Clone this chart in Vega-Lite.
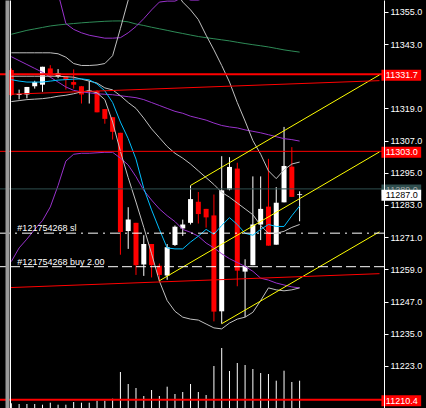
{
"$schema": "https://vega.github.io/schema/vega-lite/v6.json",
"width": 384, "height": 408,
"autosize": "none",
"padding": {"left": 0, "top": 0, "right": 42, "bottom": 0},
"background": "#000000",
"config": {"view": {"stroke": null, "fill": "#000000"}, "font": "Liberation Sans"},
"datasets": {
"bars": [
{"k":0,"o":11333.3,"h":11333.9,"l":11323.7,"c":11324.0,"v":47,"cy":11329.73,"pu":11414.64,"pm":11338.28,"pl":11261.91,"gu":11339.73,"gm":11331.0,"gl":11321.55,"g":11346.64},
{"k":1,"o":11324.0,"h":11326.0,"l":11322.4,"c":11324.4,"v":40,"cy":11329.19,"pu":11406.64,"pm":11336.82,"pl":11267.0,"gu":11339.73,"gm":11331.0,"gl":11321.91,"g":11347.37},
{"k":2,"o":11324.2,"h":11327.0,"l":11322.75,"c":11327.0,"v":40,"cy":11328.82,"pu":11400.46,"pm":11335.37,"pl":11270.28,"gu":11339.73,"gm":11331.0,"gl":11322.28,"g":11348.1},
{"k":3,"o":11327.26,"h":11329.3,"l":11326.39,"c":11328.82,"v":40,"cy":11328.82,"pu":11393.91,"pm":11333.91,"pl":11273.91,"gu":11339.73,"gm":11331.0,"gl":11322.46,"g":11348.64},
{"k":4,"o":11327.84,"h":11334.53,"l":11325.19,"c":11334.53,"v":33,"cy":11328.82,"pu":11384.82,"pm":11332.46,"pl":11277.19,"gu":11339.73,"gm":11331.0,"gl":11322.64,"g":11349.19},
{"k":5,"o":11333.9,"h":11335.11,"l":11330.53,"c":11331.26,"v":53,"cy":11329.19,"pu":11373.91,"pm":11330.64,"pl":11282.28,"gu":11339.73,"gm":11331.0,"gl":11323.0,"g":11349.73},
{"k":6,"o":11330.9,"h":11333.66,"l":11330.28,"c":11332.1,"v":33,"cy":11329.55,"pu":11361.91,"pm":11328.82,"pl":11290.28,"gu":11339.37,"gm":11331.0,"gl":11323.55,"g":11350.1},
{"k":7,"o":11330.9,"h":11330.9,"l":11326.02,"c":11329.66,"v":33,"cy":11329.73,"pu":11350.64,"pm":11327.0,"pl":11299.37,"gu":11338.1,"gm":11330.82,"gl":11323.91,"g":11350.39},
{"k":8,"o":11328.82,"h":11333.55,"l":11326.39,"c":11327.84,"v":60,"cy":11329.91,"pu":11348.46,"pm":11325.73,"pl":11301.91,"gu":11335.73,"gm":11330.64,"gl":11324.46,"g":11350.64},
{"k":9,"o":11327.26,"h":11327.37,"l":11320.82,"c":11324.2,"v":53,"cy":11330.02,"pu":11347.19,"pm":11325.19,"pl":11302.28,"gu":11335.0,"gm":11329.91,"gl":11325.19,"g":11350.9},
{"k":10,"o":11325.3,"h":11329.3,"l":11320.82,"c":11325.65,"v":53,"cy":11329.66,"pu":11346.28,"pm":11324.82,"pl":11302.28,"gu":11335.0,"gm":11329.19,"gl":11325.55,"g":11351.11},
{"k":11,"o":11325.44,"h":11325.8,"l":11317.55,"c":11317.55,"v":73,"cy":11328.1,"pu":11345.73,"pm":11324.46,"pl":11302.46,"gu":11335.19,"gm":11328.46,"gl":11324.82,"g":11351.3},
{"k":12,"o":11318.75,"h":11318.75,"l":11313.3,"c":11315.11,"v":73,"cy":11325.55,"pu":11345.19,"pm":11324.28,"pl":11302.64,"gu":11335.73,"gm":11326.64,"gl":11322.28,"g":11351.48},
{"k":13,"o":11315.73,"h":11315.73,"l":11307.37,"c":11310.28,"v":93,"cy":11321.19,"pu":11345.19,"pm":11324.1,"pl":11302.64,"gu":11338.64,"gm":11325.91,"gl":11313.91,"g":11351.59},
{"k":14,"o":11309.91,"h":11309.91,"l":11264.46,"c":11272.93,"v":360,"cy":11313.91,"pu":11345.37,"pm":11323.73,"pl":11300.46,"gu":11348.82,"gm":11323.73,"gl":11303.0,"g":11351.62},
{"k":15,"o":11273.3,"h":11282.17,"l":11266.64,"c":11277.55,"v":240,"cy":11307.73,"pu":11347.19,"pm":11323.37,"pl":11297.91,"gu":11359.37,"gm":11321.19,"gl":11293.19,"g":11351.26},
{"k":16,"o":11276.35,"h":11276.35,"l":11256.93,"c":11260.57,"v":200,"cy":11300.1,"pu":11349.55,"pm":11323.0,"pl":11293.55,"gu":11366.64,"gm":11319.0,"gl":11284.1,"g":11350.46},
{"k":17,"o":11260.82,"h":11271.73,"l":11256.57,"c":11268.46,"v":120,"cy":11289.19,"pu":11352.46,"pm":11322.28,"pl":11288.46,"gu":11370.28,"gm":11315.37,"gl":11274.64,"g":11349.91},
{"k":18,"o":11268.46,"h":11268.46,"l":11255.99,"c":11260.57,"v":180,"cy":11281.19,"pu":11355.73,"pm":11321.19,"pl":11284.82,"gu":11371.37,"gm":11311.37,"gl":11264.82,"g":11349.26},
{"k":19,"o":11260.35,"h":11261.19,"l":11254.75,"c":11256.93,"v":120,"cy":11273.91,"pu":11358.64,"pm":11320.1,"pl":11281.55,"gu":11370.28,"gm":11308.1,"gl":11254.64,"g":11348.68},
{"k":20,"o":11256.71,"h":11268.46,"l":11255.11,"c":11267.26,"v":213,"cy":11267.0,"pu":11359.0,"pm":11319.0,"pl":11279.0,"gu":11367.73,"gm":11304.82,"gl":11247.37,"g":11348.1},
{"k":21,"o":11268.1,"h":11275.37,"l":11267.73,"c":11274.9,"v":140,"cy":11266.64,"pu":11359.0,"pm":11317.91,"pl":11276.82,"gu":11363.0,"gm":11302.28,"gl":11243.37,"g":11347.48},
{"k":22,"o":11274.28,"h":11277.55,"l":11271.48,"c":11275.73,"v":160,"cy":11266.64,"pu":11360.46,"pm":11317.19,"pl":11273.91,"gu":11358.64,"gm":11300.46,"gl":11241.19,"g":11346.93},
{"k":23,"o":11276.35,"h":11290.28,"l":11275.73,"c":11285.19,"v":240,"cy":11269.19,"pu":11359.37,"pm":11316.1,"pl":11272.82,"gu":11355.73,"gm":11298.28,"gl":11240.46,"g":11346.35},
{"k":24,"o":11284.2,"h":11287.84,"l":11276.1,"c":11279.62,"v":160,"cy":11271.37,"pu":11359.37,"pm":11315.37,"pl":11271.37,"gu":11352.1,"gm":11295.73,"gl":11240.1,"g":11345.8},
{"k":25,"o":11281.55,"h":11281.55,"l":11274.53,"c":11278.39,"v":130,"cy":11273.91,"pu":11360.46,"pm":11314.64,"pl":11268.82,"gu":11346.28,"gm":11293.19,"gl":11238.64,"g":11345.37},
{"k":26,"o":11279.11,"h":11286.9,"l":11239.62,"c":11243.26,"v":420,"cy":11272.1,"pu":11360.1,"pm":11313.55,"pl":11267.0,"gu":11340.82,"gm":11290.64,"gl":11237.19,"g":11344.97},
{"k":27,"o":11243.37,"h":11301.19,"l":11238.75,"c":11288.46,"v":600,"cy":11275.37,"pu":11360.46,"pm":11312.64,"pl":11264.82,"gu":11335.0,"gm":11287.73,"gl":11236.82,"g":11344.57},
{"k":28,"o":11288.82,"h":11300.82,"l":11288.46,"c":11297.19,"v":370,"cy":11278.28,"pu":11361.19,"pm":11312.1,"pl":11263.0,"gu":11328.82,"gm":11285.91,"gl":11239.0,"g":11344.17},
{"k":29,"o":11296.57,"h":11298.75,"l":11252.71,"c":11258.53,"v":450,"cy":11275.73,"pu":11361.91,"pm":11311.73,"pl":11261.55,"gu":11321.19,"gm":11283.73,"gl":11240.46,"g":11343.66},
{"k":30,"o":11258.17,"h":11262.75,"l":11241.19,"c":11260.2,"v":430,"cy":11272.46,"pu":11361.91,"pm":11311.0,"pl":11260.1,"gu":11314.28,"gm":11281.55,"gl":11241.19,"g":11343.19},
{"k":31,"o":11260.57,"h":11293.66,"l":11260.57,"c":11275.73,"v":390,"cy":11271.73,"pu":11362.64,"pm":11310.46,"pl":11258.28,"gu":11307.0,"gm":11279.37,"gl":11243.0,"g":11342.75},
{"k":32,"o":11275.73,"h":11293.66,"l":11269.91,"c":11281.55,"v":350,"cy":11273.91,"pu":11364.1,"pm":11309.91,"pl":11255.73,"gu":11301.91,"gm":11275.37,"gl":11247.37,"g":11342.35},
{"k":33,"o":11282.39,"h":11300.2,"l":11267.84,"c":11267.84,"v":340,"cy":11275.73,"pu":11363.37,"pm":11309.19,"pl":11255.0,"gu":11295.73,"gm":11272.46,"gl":11252.1,"g":11341.91},
{"k":34,"o":11268.2,"h":11289.66,"l":11268.2,"c":11283.84,"v":273,"cy":11275.0,"pu":11363.0,"pm":11308.46,"pl":11253.91,"gu":11292.82,"gm":11272.46,"gl":11251.37,"g":11341.37},
{"k":35,"o":11283.99,"h":11312.1,"l":11283.99,"c":11297.55,"v":373,"cy":11275.0,"pu":11362.28,"pm":11307.73,"pl":11253.19,"gu":11296.1,"gm":11273.19,"gl":11251.0,"g":11340.82},
{"k":36,"o":11297.3,"h":11304.57,"l":11286.02,"c":11286.02,"v":260,"cy":11279.0,"pu":11362.28,"pm":11307.37,"pl":11252.46,"gu":11298.28,"gm":11274.64,"gl":11251.37,"g":11340.39},
{"k":37,"o":11286.7,"h":11288.1,"l":11276.93,"c":11287.0,"v":273,"cy":11282.64,"pu":11361.55,"pm":11306.82,"pl":11252.1,"gu":11299.0,"gm":11275.73,"gl":11252.1,"g":11339.99}
],
"levels": [
{"name":"level","p":11331.7},
{"name":"level","p":11303.0},
{"name":"level","p":11210.4},
{"name":"ask","p":11289.0}
],
"tags": [
{"kind":"level","p":11331.7},
{"kind":"level","p":11303.0},
{"kind":"level","p":11210.4},
{"kind":"ask","p":11289.0},
{"kind":"bid","p":11287.0}
],
"orders": [
{"label":"#121754268 sl","p":11272.5,"type":"sl"},
{"label":"#121754268 buy 2.00","p":11260.0,"type":"buy"}
],
"trend": [
{"id":"ch1","kind":"channel","i":23,"p":11290.28},
{"id":"ch1","kind":"channel","i":47.25,"p":11331.5},
{"id":"ch2","kind":"channel","i":19,"p":11254.75},
{"id":"ch2","kind":"channel","i":47.25,"p":11302.8},
{"id":"ch3","kind":"channel","i":27,"p":11238.75},
{"id":"ch3","kind":"channel","i":47.25,"p":11273.0},
{"id":"tr1","kind":"trend","i":-0.15,"p":11324.28},
{"id":"tr1","kind":"trend","i":47.25,"p":11329.35},
{"id":"tr2","kind":"trend","i":-0.15,"p":11252.21},
{"id":"tr2","kind":"trend","i":47.25,"p":11257.4}
]
},
"layer": [
{
"data": {"name": "bars"},
"mark": {"type": "rule", "color": "#ffffff", "strokeWidth": 1},
"encoding": {
"x": {"field": "k", "type": "quantitative", "scale": {"domain": [-0.8125, 47.1875], "nice": false, "zero": false},
"axis": {"orient": "bottom", "values": [-0.5625, -0.125], "domain": false, "ticks": false, "labels": false, "title": null, "grid": true,
"gridColor": {"condition": {"test": "datum.value < -0.3", "value": "#9a9a9a"}, "value": "#ffffff"},
"gridWidth": {"condition": {"test": "datum.value < -0.3", "value": 4}, "value": 1},
"gridOpacity": 1, "zindex": 1}},
"y": {"field": "v", "type": "quantitative", "scale": {"domain": [0, 4080], "nice": false, "zero": false}, "axis": null},
"y2": {"datum": 0}
}
},
{
"layer": [
{
"data": {"name": "bars"},
"mark": {"type": "rule", "strokeWidth": 1},
"encoding": {
"x": {"field": "k", "type": "quantitative"},
"y": {"field": "l", "type": "quantitative", "scale": {"domain": [11209.19, 11357.55], "nice": false, "zero": false},
"axis": {"orient": "right", "values": [11355, 11343, 11319, 11307, 11295, 11283, 11271, 11259, 11247, 11235, 11223], "format": ".1f", "title": null, "grid": false,
"domainColor": "#ffffff", "domainWidth": 1, "tickColor": "#ffffff", "tickSize": 4, "tickWidth": 1,
"labelColor": "#ffffff", "labelFont": "Liberation Sans", "labelFontSize": 9, "labelPadding": 2, "labelFlush": false, "labelOverlap": false, "labelBound": false, "zindex": 1}},
"y2": {"field": "h"},
"color": {"condition": {"test": "datum.c >= datum.o", "value": "#ffffff"}, "value": "#ff0000"}
}
},
{
"data": {"name": "bars"},
"mark": {"type": "bar", "width": 5},
"encoding": {
"x": {"field": "k", "type": "quantitative"},
"y": {"field": "o", "type": "quantitative", "scale": {"domain": [11209.19, 11357.55], "nice": false, "zero": false}},
"y2": {"field": "c"},
"color": {"condition": {"test": "datum.c >= datum.o", "value": "#ffffff"}, "value": "#ff0000"}
}
},
{
"data": {"name": "bars"},
"transform": [{"fold": ["g", "pu", "pm", "pl", "gu", "gm", "gl", "cy"], "as": ["series", "val"]}],
"mark": {"type": "line", "clip": true, "strokeWidth": 1},
"encoding": {
"x": {"field": "k", "type": "quantitative"},
"y": {"field": "val", "type": "quantitative", "scale": {"domain": [11209.19, 11357.55], "nice": false, "zero": false}},
"color": {"field": "series", "type": "nominal", "scale": {"domain": ["g", "pu", "pm", "pl", "gu", "gm", "gl", "cy"], "range": ["#2e8b57", "#9932cc", "#9932cc", "#9932cc", "#c0c0c0", "#c0c0c0", "#c0c0c0", "#00bfff"]}, "legend": null}
}
},
{
"data": {"name": "levels"},
"mark": {"type": "rule"},
"encoding": {
"y": {"field": "p", "type": "quantitative", "scale": {"domain": [11209.19, 11357.55], "nice": false, "zero": false}},
"color": {"condition": {"test": "datum.name == 'ask'", "value": "#2f4f4f"}, "value": "#ff0000"},
"strokeWidth": {"condition": {"test": "datum.p > 11320 || datum.p < 11220", "value": 2}, "value": 1}
}
},
{
"data": {"name": "trend"},
"mark": {"type": "line", "clip": true, "strokeWidth": 1},
"encoding": {
"x": {"field": "i", "type": "quantitative"},
"y": {"field": "p", "type": "quantitative", "scale": {"domain": [11209.19, 11357.55], "nice": false, "zero": false}},
"detail": {"field": "id"},
"color": {"condition": {"test": "datum.kind == 'channel'", "value": "#ffff00"}, "value": "#ff0000"}
}
},
{
"data": {"name": "orders"},
"transform": [{"filter": "datum.type == 'sl'"}],
"mark": {"type": "rule", "color": "#ffffff", "strokeWidth": 1, "strokeDash": [10, 5, 2, 5]},
"encoding": {
"y": {"field": "p", "type": "quantitative", "scale": {"domain": [11209.19, 11357.55], "nice": false, "zero": false}}
}
},
{
"data": {"name": "orders"},
"transform": [{"filter": "datum.type == 'buy'"}],
"mark": {"type": "rule", "color": "#ffffff", "strokeWidth": 1, "strokeDash": [10, 4]},
"encoding": {
"y": {"field": "p", "type": "quantitative", "scale": {"domain": [11209.19, 11357.55], "nice": false, "zero": false}}
}
},
{
"data": {"name": "orders"},
"mark": {"type": "text", "align": "left", "baseline": "alphabetic", "dy": -2, "fontSize": 9, "font": "Liberation Sans", "color": "#ffffff"},
"encoding": {
"x": {"datum": 0.775},
"y": {"field": "p", "type": "quantitative", "scale": {"domain": [11209.19, 11357.55], "nice": false, "zero": false}},
"text": {"field": "label"}
}
},
{
"data": {"name": "tags"},
"transform": [{"filter": "datum.kind != 'bid'"}],
"mark": {"type": "bar", "height": 11, "yOffset": 1},
"encoding": {
"x": {"datum": 47.5},
"x2": {"datum": 52.6},
"y": {"field": "p", "type": "quantitative", "scale": {"domain": [11209.19, 11357.55], "nice": false, "zero": false}},
"color": {"condition": {"test": "datum.kind == 'ask'", "value": "#2f4f4f"}, "value": "#ff0000"}
}
},
{
"data": {"name": "tags"},
"transform": [{"filter": "datum.kind != 'bid'"}],
"mark": {"type": "text", "align": "left", "baseline": "middle", "dy": 1, "fontSize": 9, "font": "Liberation Sans"},
"encoding": {
"x": {"datum": 48.06},
"y": {"field": "p", "type": "quantitative", "scale": {"domain": [11209.19, 11357.55], "nice": false, "zero": false}},
"text": {"field": "p", "type": "quantitative", "format": ".1f"},
"color": {"condition": {"test": "datum.kind == 'ask'", "value": "#a9a9a9"}, "value": "#ffffff"}
}
},
{
"data": {"name": "tags"},
"transform": [{"filter": "datum.kind == 'bid'"}],
"mark": {"type": "bar", "height": 11, "yOffset": 1, "color": "#ffffff"},
"encoding": {
"x": {"datum": 47.5},
"x2": {"datum": 52.6},
"y": {"field": "p", "type": "quantitative", "scale": {"domain": [11209.19, 11357.55], "nice": false, "zero": false}}
}
},
{
"data": {"name": "tags"},
"transform": [{"filter": "datum.kind == 'bid'"}],
"mark": {"type": "text", "align": "left", "baseline": "middle", "dy": 1, "fontSize": 9, "font": "Liberation Sans", "color": "#000000"},
"encoding": {
"x": {"datum": 48.06},
"y": {"field": "p", "type": "quantitative", "scale": {"domain": [11209.19, 11357.55], "nice": false, "zero": false}},
"text": {"field": "p", "type": "quantitative", "format": ".1f"}
}
}
]
}
],
"resolve": {"scale": {"y": "independent"}, "axis": {"y": "independent"}}
}
